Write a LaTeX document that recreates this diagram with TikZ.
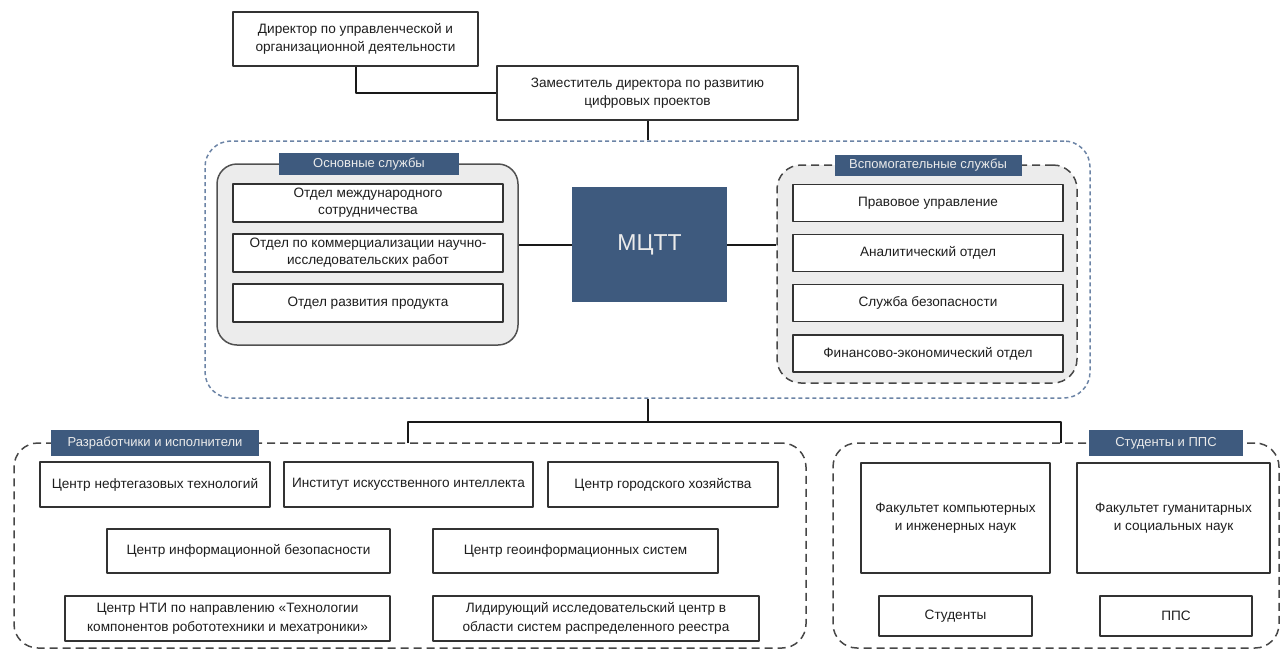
\documentclass[tikz,border=0pt]{standalone}
\usepackage{fontspec}
\setmainfont{Liberation Sans}
\definecolor{headblue}{RGB}{62,90,126}
\definecolor{outerblue}{RGB}{108,132,166}
\definecolor{boxline}{RGB}{50,50,50}
\definecolor{groupfill}{RGB}{236,236,236}
\definecolor{textgray}{RGB}{30,30,30}

\tikzset{
  unitbox/.style={draw=boxline, line width=1.5pt, fill=white, inner sep=0pt,
    align=center, text=textgray},
  grouptag/.style={fill=headblue, text=white!92!black, inner sep=0pt,
    font=\fontsize{13}{15}\selectfont},
  outerframe/.style={draw=outerblue, line width=1.5pt, dash pattern=on 4pt off 3pt,
    rounded corners=26pt, inner sep=0pt},
  solidgroup/.style={draw=boxline!85, line width=1.5pt, fill=groupfill,
    rounded corners=20pt, inner sep=0pt},
  dashgroup/.style={draw=boxline!90, line width=1.5pt, dash pattern=on 8pt off 5pt,
    rounded corners=24pt, inner sep=0pt},
  link/.style={draw=black!90, line width=2pt}
}

\begin{document}
\begin{tikzpicture}[x=1pt, y=-1pt, font=\fontsize{13.6}{18.5}\selectfont, line join=round]
\useasboundingbox (0,0) rectangle (1282,651);

% ---------- top ----------
\node[unitbox, minimum width=245, minimum height=54] (dir) at (355.5,39)
  {Директор по управленческой и\\организационной деятельности};
\node[unitbox, minimum width=301, minimum height=54] (dep) at (647.5,93)
  {Заместитель директора по развитию\\цифровых проектов};

% ---------- middle ----------
\node[outerframe, minimum width=885, minimum height=257] (outer) at (647.5,269.5) {};
\node[solidgroup, minimum width=301, minimum height=181] (maingrp) at (367.5,254.5) {};
\node[dashgroup, fill=groupfill, minimum width=300, minimum height=218] (auxgrp) at (927,274) {};
\node[grouptag, minimum width=180, minimum height=22] (maintag) at (369,164) {Основные службы};
\node[grouptag, minimum width=187, minimum height=21] (auxtag) at (928,165) {Вспомогательные службы};

\node[unitbox, minimum width=270, minimum height=38, font=\fontsize{13.6}{17}\selectfont] (intl) at (368,203)
  {Отдел международного\\сотрудничества};
\node[unitbox, minimum width=270, minimum height=38, font=\fontsize{13.6}{17}\selectfont] (comm) at (368,253)
  {Отдел по коммерциализации научно-\\исследовательских работ};
\node[unitbox, minimum width=270, minimum height=38] (prod) at (368,303)
  {Отдел развития продукта};

\node[unitbox, minimum width=270, minimum height=37] (legal) at (928,203) {Правовое управление};
\node[unitbox, minimum width=270, minimum height=37] (anal) at (928,253) {Аналитический отдел};
\node[unitbox, minimum width=270, minimum height=37] (secur) at (928,303) {Служба безопасности};
\node[unitbox, minimum width=270, minimum height=37] (finec) at (928,353.5) {Финансово-экономический отдел};

\node[fill=headblue, text=white!92!black, inner sep=0pt, minimum width=155, minimum height=115,
  font=\fontsize{23}{26}\selectfont] (mctt) at (649.5,244.5) {МЦТТ};

% ---------- bottom ----------
\node[dashgroup, minimum width=792, minimum height=205] (devgrp) at (410,545.5) {};
\node[dashgroup, minimum width=446, minimum height=205] (studgrp) at (1056,545.5) {};
\node[grouptag, minimum width=208, minimum height=26] (devtag) at (155,443) {Разработчики и исполнители};
\node[grouptag, minimum width=154, minimum height=26] (studtag) at (1166,443) {Студенты и ППС};

\node[unitbox, minimum width=230, minimum height=45] (oilgas) at (155,484.5) {Центр нефтегазовых технологий};
\node[unitbox, minimum width=249, minimum height=45] (aiinst) at (408.5,484.5) {Институт искусственного интеллекта};
\node[unitbox, minimum width=230, minimum height=45] (urban) at (663,484.5) {Центр городского хозяйства};
\node[unitbox, minimum width=283, minimum height=44] (infosec) at (248.5,551) {Центр информационной безопасности};
\node[unitbox, minimum width=285, minimum height=44] (geo) at (575.5,551) {Центр геоинформационных систем};
\node[unitbox, minimum width=325, minimum height=45] (nti) at (227.5,618.5)
  {Центр НТИ по направлению «Технологии\\компонентов робототехники и мехатроники»};
\node[unitbox, minimum width=326, minimum height=45] (ledger) at (596,618.5)
  {Лидирующий исследовательский центр в\\области систем распределенного реестра};

\node[unitbox, minimum width=189, minimum height=110] (fcs) at (955.5,518)
  {Факультет компьютерных\\и инженерных наук};
\node[unitbox, minimum width=193, minimum height=110] (fhum) at (1173.5,518)
  {Факультет гуманитарных\\и социальных наук};
\node[unitbox, minimum width=153, minimum height=40] (stud) at (955.5,616) {Студенты};
\node[unitbox, minimum width=152, minimum height=40] (pps) at (1176,616) {ППС};

% ---------- connectors ----------
\draw[link] (dir.south) |- (dep.west);
\draw[link] (dep.south) -- (outer.north);
\draw[link] (mctt.west) -- (mctt.west -| maingrp.east);
\draw[link] (mctt.east) -- (mctt.east -| auxgrp.west);
\coordinate (split) at ([yshift=-23pt]outer.south);
\coordinate (devdrop) at (408,443);
\coordinate (studdrop) at (1061,443);
\draw[link] (outer.south) -- (split);
\draw[link] (devdrop) |- (split) -| (studdrop);

\end{tikzpicture}
\end{document}
